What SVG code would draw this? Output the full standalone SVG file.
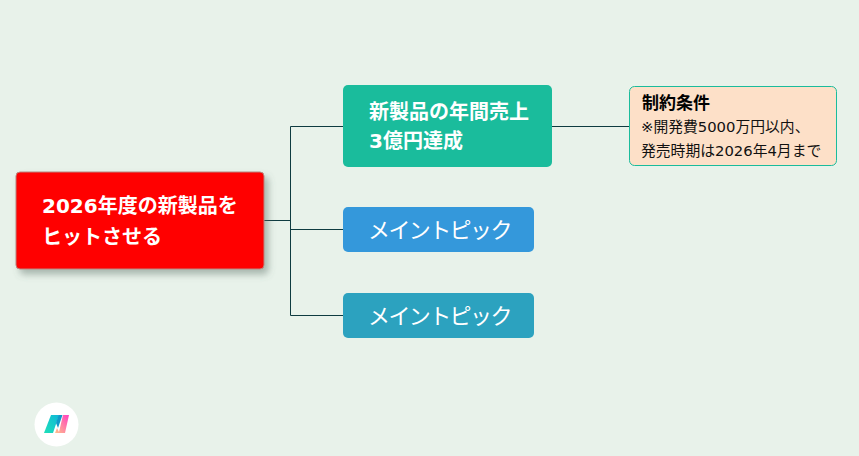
<svg xmlns="http://www.w3.org/2000/svg" width="859" height="456" viewBox="0 0 859 456">
<style>
text{font-family:"DejaVu Sans","Noto Sans CJK JP","Noto Sans CJK SC",sans-serif}
.w{fill:#fff}
.m{font-size:22px;letter-spacing:-1.600px}
.g{font-size:20px;font-weight:700}
.r{font-size:20px;font-weight:700}
.n{font-size:14.800px;fill:#111}
.c{fill:none;stroke:#0e3b40;stroke-width:1}
</style>
<defs>
<filter id="sh" x="-10%" y="-20%" width="125%" height="150%"><feDropShadow dx="4" dy="5" stdDeviation="3.500" flood-color="#5a6f66" flood-opacity=".45"/></filter>
<linearGradient id="g1" x1="0" y1="1" x2="1" y2="0"><stop offset="0" stop-color="#1fe0b8"/><stop offset="1" stop-color="#0fb8d8"/></linearGradient>
<linearGradient id="g2" x1="0" y1="1" x2="1" y2="0"><stop offset="0" stop-color="#ffc28a"/><stop offset="1" stop-color="#ff3fc0"/></linearGradient>
</defs>
<rect width="859" height="456" fill="#e8f2ea"/>
<g id="connectors">
<path class="c" d="M264 220.500H290.500M290.500 126.500V315.500M290.500 126.500H343M290.500 229.500H343M290.500 315.500H343M552 126.500H630"/>
</g>
<g id="root">
<rect x="16" y="172" width="248" height="97" rx="4" fill="#f00" stroke="#b9867f" stroke-width="1" filter="url(#sh)"/>
<text class="w r" x="42" y="213">2026年度の新製品を</text>
<text class="w r" x="42" y="244">ヒットさせる</text>
</g>
<g id="node-goal">
<rect x="343" y="85" width="209" height="82" rx="5" fill="#1abc9c"/>
<text class="w g" x="369" y="119">新製品の年間売上</text>
<text class="w g" x="369" y="148">3億円達成</text>
</g>
<g id="node-topic1">
<rect x="343" y="207" width="191" height="45" rx="5" fill="#3498db"/>
<text class="w m" x="368" y="238">メイントピック</text>
</g>
<g id="node-topic2">
<rect x="343" y="293" width="191" height="45" rx="5" fill="#2ca2bf"/>
<text class="w m" x="368" y="324">メイントピック</text>
</g>
<g id="note">
<rect x="629.500" y="86.500" width="207" height="79" rx="5" fill="#fde0c8" stroke="#1abc9c" stroke-width="1"/>
<text x="642" y="109" font-size="17" font-weight="700" fill="#000">制約条件</text>
<text class="n" x="641" y="132">※開発費5000万円以内、</text>
<text class="n" x="641" y="156">発売時期は2026年4月まで</text>
</g>
<g id="logo">
<circle cx="56.500" cy="424.500" r="22" fill="#fff"/>
<path d="M44 433L51 415H59L53 433Z" fill="url(#g1)"/>
<path d="M58.500 415H62.500L58 428L56 423Z" fill="#1199c9"/>
<path d="M63 415H69L65 433H55L57 428L59 432Z" fill="url(#g2)"/>
</g>
</svg>
